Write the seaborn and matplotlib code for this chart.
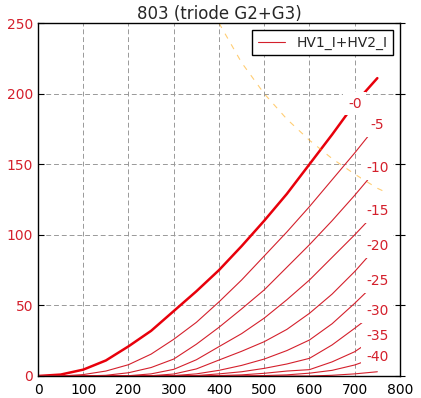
import pandas as pd
import matplotlib
matplotlib.use('Agg')
import matplotlib.pyplot as plt
import seaborn as sns
from matplotlib.lines import Line2D

# Anode voltage (V) and anode current (mA) per grid voltage
va = [0, 50, 100, 150, 200, 250, 300, 350, 400, 450, 500, 550, 600, 650, 700, 750]
i_g0 = [0, 1, 4.5, 11, 21, 32, 46, 60, 75, 92, 110, 129, 150, 171, 193, 211]
i_g5 = [0, 0, 1, 3.5, 8, 15.5, 26, 38, 52.5, 68, 85, 102, 120, 139, 158, 178]
i_g10 = [0, 0, 0, 0.5, 2.3, 6, 12, 22.5, 34.5, 47.5, 61, 77, 93, 110, 128, 147]
i_g15 = [0, 0, 0, 0, 0.2, 1.5, 4.7, 11.5, 20.8, 30, 41, 54, 68, 84, 100, 117]
i_g20 = [0, 0, 0, 0, 0, 0.2, 1.4, 5, 11.3, 17.5, 24.3, 33, 44.4, 58, 74, 92]
i_g25 = [0, 0, 0, 0, 0, 0, 0.3, 1.5, 4, 7.5, 12, 18, 25.5, 37, 51.5, 67]
i_g30 = [0, 0, 0, 0, 0, 0, 0, 0.3, 1.5, 3, 5.4, 8.5, 12.5, 22, 33.8, 46]
i_g35 = [0, 0, 0, 0, 0, 0, 0, 0, 0.3, 0.8, 1.9, 3.5, 4.5, 10, 17.2, 28]
i_g40 = [0, 0, 0, 0, 0, 0, 0, 0, 0, 0, 0.3, 0.8, 2, 4, 7.8, 13.5]
i_g45 = [0, 0, 0, 0, 0, 0, 0, 0, 0, 0, 0, 0, 0, 0.5, 1.5, 3]

grid_v = [0, -5, -10, -15, -20, -25, -30, -35, -40, -45]
curves = [i_g0, i_g5, i_g10, i_g15, i_g20, i_g25, i_g30, i_g35, i_g40, i_g45]
labels = ['-0', '-5', '-10', '-15', '-20', '-25', '-30', '-35', '-40', None]

# 100 W dissipation limit
pd_v = [400, 450, 500, 550, 600, 650, 700, 750, 770]
pd_i = [250, 222, 200, 182, 167, 154, 143, 133, 130]

rows = []
for g, ic in zip(grid_v, curves):
    for v, i in zip(va, ic):
        rows.append({'va': v, 'ia': i, 'vg': g})
df = pd.DataFrame(rows)

sns.set_style("whitegrid")
plt.rcParams['font.family'] = ['DejaVu Sans']

fig = plt.figure(figsize=(4.21, 3.98), dpi=100)
ax = fig.add_axes([0.0903, 0.0553, 0.8597, 0.8867])

red = '#d4202c'
for g in grid_v:
    sub = df[df['vg'] == g]
    sns.lineplot(data=sub, x='va', y='ia', ax=ax, color='#e8000b' if g == 0 else red,
                 linewidth=1.8 if g == 0 else 0.8, legend=False)

sns.lineplot(x=pd_v, y=pd_i, ax=ax, color='orange', alpha=0.55, linewidth=0.8,
             linestyle=(0, (5, 6)), legend=False)

# curve labels (white box hides the end of each curve)
for ic, lab in zip(curves, labels):
    if lab is None:
        continue
    xi = 700 if lab == '-0' else 750
    yi = ic[va.index(xi)]
    ax.text(xi, yi, lab, color=red, fontsize=10, ha='center', va='center',
            bbox=dict(facecolor='white', edgecolor='none', pad=3.5), zorder=5)

ax.set_xlim(0, 800)
ax.set_ylim(0, 250)
ax.set_xticks(range(0, 801, 100))
ax.set_yticks(range(0, 251, 50))
ax.set_xlabel('')
ax.set_ylabel('')
ax.set_title('803 (triode G2+G3)', fontsize=12, pad=3)

ax.grid(True, color='#999999', linestyle=(0, (5, 3)), linewidth=0.7)
for s in ax.spines.values():
    s.set_color('black')
    s.set_linewidth(1.0)
ax.tick_params(axis='x', direction='in', length=4, colors='black', labelsize=10, pad=5)
ax.tick_params(axis='y', direction='in', length=4, color='black', labelcolor=red, labelsize=10)

ax2 = ax.twinx()
ax2.set_ylim(0, 250)
ax2.set_yticks(range(0, 251, 50))
ax2.grid(False)
ax2.tick_params(axis='y', direction='inout', length=7, color='black', labelright=False)
for s in ax2.spines.values():
    s.set_visible(False)

handle = Line2D([0], [0], color=red, linewidth=0.8)
leg = ax.legend([handle], ['HV1_I+HV2_I'], loc='upper right', fontsize=10,
                fancybox=False, framealpha=1, edgecolor='black', borderaxespad=0.5)
leg.get_frame().set_linewidth(1.0)

fig.savefig('out.png', dpi=100)
